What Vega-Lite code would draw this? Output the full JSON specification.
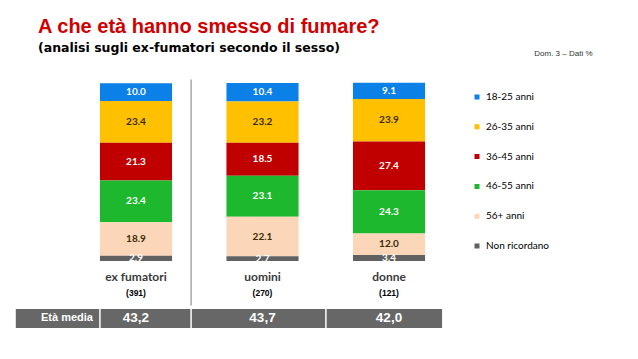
{
  "$schema": "https://vega.github.io/schema/vega-lite/v6.json",
  "width": 525,
  "height": 178,
  "autosize": {"type": "none"},
  "padding": {"left": 0, "top": 83, "right": 113, "bottom": 98},
  "background": "white",
  "config": {"view": {"stroke": null}},
  "title": {
    "text": "A che età hanno smesso di fumare?",
    "subtitle": "(analisi sugli ex-fumatori secondo il sesso)",
    "anchor": "start",
    "frame": "group",
    "dx": 38,
    "dy": 34,
    "offset": 29,
    "font": "Liberation Sans",
    "fontSize": 20,
    "fontWeight": "bold",
    "color": "#D00000",
    "subtitleFont": "DejaVu Sans",
    "subtitleFontSize": 12.5,
    "subtitleFontWeight": "bold",
    "subtitleColor": "#000000",
    "subtitlePadding": 5
  },
  "datasets": {
    "seg": [
      {"cat": "ex fumatori", "eta": "18-25 anni", "value": 10.0},
      {"cat": "ex fumatori", "eta": "26-35 anni", "value": 23.4},
      {"cat": "ex fumatori", "eta": "36-45 anni", "value": 21.3},
      {"cat": "ex fumatori", "eta": "46-55 anni", "value": 23.4},
      {"cat": "ex fumatori", "eta": "56+ anni", "value": 18.9},
      {"cat": "ex fumatori", "eta": "Non ricordano", "value": 2.9},
      {"cat": "uomini", "eta": "18-25 anni", "value": 10.4},
      {"cat": "uomini", "eta": "26-35 anni", "value": 23.2},
      {"cat": "uomini", "eta": "36-45 anni", "value": 18.5},
      {"cat": "uomini", "eta": "46-55 anni", "value": 23.1},
      {"cat": "uomini", "eta": "56+ anni", "value": 22.1},
      {"cat": "uomini", "eta": "Non ricordano", "value": 2.7},
      {"cat": "donne", "eta": "18-25 anni", "value": 9.1},
      {"cat": "donne", "eta": "26-35 anni", "value": 23.9},
      {"cat": "donne", "eta": "36-45 anni", "value": 27.4},
      {"cat": "donne", "eta": "46-55 anni", "value": 24.3},
      {"cat": "donne", "eta": "56+ anni", "value": 12.0},
      {"cat": "donne", "eta": "Non ricordano", "value": 3.4}
    ],
    "cats": [
      {"cat": "ex fumatori", "n": "(391)", "media": "43,2"},
      {"cat": "uomini", "n": "(270)", "media": "43,7"},
      {"cat": "donne", "n": "(121)", "media": "42,0"}
    ]
  },
  "layer": [
    {
      "data": {"name": "seg"},
      "mark": {"type": "bar"},
      "encoding": {
        "x": {
          "field": "cat",
          "type": "nominal",
          "scale": {"domain": ["ex fumatori", "uomini", "donne"], "paddingInner": 0.43, "paddingOuter": 0.79},
          "axis": {
            "orient": "top",
            "labels": false,
            "ticks": false,
            "domain": false,
            "grid": false,
            "title": "Dom. 3  – Dati %",
            "titleX": 592,
            "titleY": -30,
            "titleAlign": "right",
            "titleAnchor": null,
            "titleBaseline": "middle",
            "titleFont": "Liberation Sans",
            "titleFontSize": 8,
            "titleFontWeight": "normal",
            "titleColor": "#333333"
          }
        },
        "y": {
          "field": "value",
          "type": "quantitative",
          "stack": "zero",
          "scale": {"domain": [0, 100], "nice": false, "zero": true},
          "axis": null
        },
        "color": {
          "field": "eta",
          "type": "nominal",
          "scale": {
            "domain": ["18-25 anni", "26-35 anni", "36-45 anni", "46-55 anni", "56+ anni", "Non ricordano"],
            "range": ["#0B80E6", "#FFC000", "#C00000", "#1DB82D", "#FBD6B8", "#616161"]
          },
          "legend": {
            "orient": "none",
            "legendX": 472,
            "legendY": 9,
            "title": null,
            "symbolType": "square",
            "symbolSize": 25,
            "symbolStrokeWidth": 0,
            "labelFont": "Lato",
            "labelFontSize": 10,
            "labelColor": "#000000",
            "labelOffset": 4,
            "clipHeight": 10,
            "rowPadding": 19.8,
            "padding": 0
          }
        },
        "order": {"field": "eta", "sort": "descending"}
      }
    },
    {
      "data": {"name": "seg"},
      "mark": {"type": "text", "font": "Lato", "fontWeight": "bold", "fontSize": 10, "baseline": "middle", "align": "center"},
      "encoding": {
        "x": {"field": "cat", "type": "nominal"},
        "y": {"field": "value", "type": "quantitative", "stack": "zero", "bandPosition": 0.5},
        "detail": {"field": "eta"},
        "order": {"field": "eta", "sort": "descending"},
        "text": {"field": "value", "type": "quantitative", "format": ".1f"},
        "color": {
          "condition": {"test": "datum.eta === '26-35 anni' || datum.eta === '56+ anni'", "value": "#3A2C05"},
          "value": "#FFFFFF"
        }
      }
    },
    {
      "data": {"values": [{}]},
      "mark": {"type": "rule", "color": "#A6A6A6", "strokeWidth": 1.5},
      "encoding": {
        "x": {"datum": "ex fumatori", "bandPosition": 1.264},
        "y": {"datum": 102},
        "y2": {"datum": -25}
      }
    },
    {
      "data": {"name": "cats"},
      "mark": {"type": "text", "font": "Lato", "fontWeight": "bold", "fontSize": 12, "color": "#3A3A3A", "baseline": "middle", "letterSpacing": 0.5},
      "encoding": {
        "x": {"field": "cat", "type": "nominal"},
        "y": {"datum": -9},
        "text": {"field": "cat"}
      }
    },
    {
      "data": {"name": "cats"},
      "mark": {"type": "text", "font": "Liberation Sans", "fontWeight": "bold", "fontSize": 8.5, "color": "#000000", "baseline": "middle"},
      "encoding": {
        "x": {"field": "cat", "type": "nominal"},
        "y": {"datum": -18},
        "text": {"field": "n"}
      }
    },
    {
      "data": {"values": [{}]},
      "mark": {"type": "rect", "color": "#676767"},
      "encoding": {
        "x": {"datum": "ex fumatori", "bandPosition": -1.167},
        "x2": {"datum": "donne", "bandPosition": 1.236},
        "y": {"datum": -27},
        "y2": {"datum": -37.6}
      }
    },
    {
      "data": {"values": [{}]},
      "mark": {"type": "rule", "color": "#FFFFFF", "strokeWidth": 1.5},
      "encoding": {
        "x": {"datum": "ex fumatori", "bandPosition": 0},
        "y": {"datum": -27},
        "y2": {"datum": -37.6}
      }
    },
    {
      "data": {"values": [{}]},
      "mark": {"type": "rule", "color": "#FFFFFF", "strokeWidth": 1.5},
      "encoding": {
        "x": {"datum": "ex fumatori", "bandPosition": 1.264},
        "y": {"datum": -27},
        "y2": {"datum": -37.6}
      }
    },
    {
      "data": {"values": [{}]},
      "mark": {"type": "rule", "color": "#FFFFFF", "strokeWidth": 1.5},
      "encoding": {
        "x": {"datum": "donne", "bandPosition": -0.375},
        "y": {"datum": -27},
        "y2": {"datum": -37.6}
      }
    },
    {
      "data": {"values": [{"label": "Età media"}]},
      "mark": {"type": "text", "font": "Liberation Sans", "fontWeight": "bold", "fontSize": 11, "color": "#FFFFFF", "align": "right", "baseline": "middle"},
      "encoding": {
        "x": {"datum": "ex fumatori", "bandPosition": -0.097},
        "y": {"datum": -32.3},
        "text": {"field": "label"}
      }
    },
    {
      "data": {"name": "cats"},
      "mark": {"type": "text", "font": "Liberation Sans", "fontWeight": "bold", "fontSize": 13.5, "color": "#FFFFFF", "align": "center", "baseline": "middle"},
      "encoding": {
        "x": {"field": "cat", "type": "nominal"},
        "y": {"datum": -32.3},
        "text": {"field": "media"}
      }
    }
  ]
}
